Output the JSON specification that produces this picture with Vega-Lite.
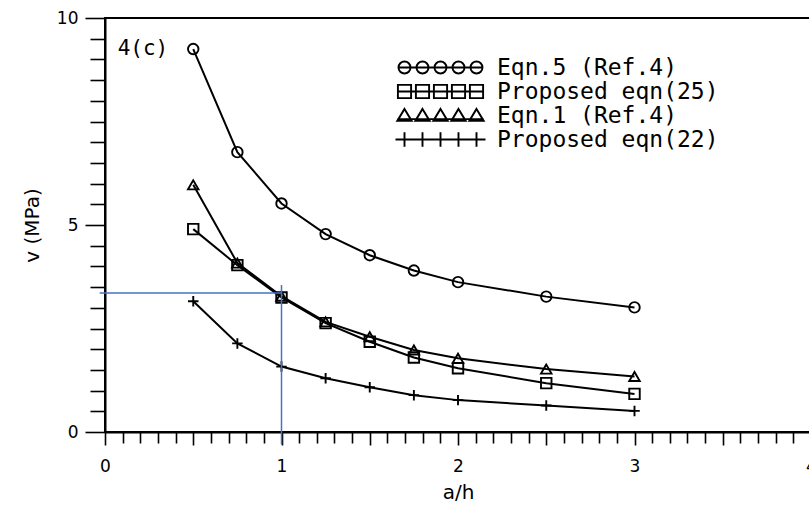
{
  "$schema": "https://vega.github.io/schema/vega-lite/v6.json",
  "width": 706,
  "height": 414,
  "autosize": {"type": "none"},
  "padding": {"left": 105, "top": 18, "right": 0, "bottom": 77},
  "background": "white",
  "config": {
    "view": {"stroke": "black", "strokeWidth": 2},
    "font": "DejaVu Sans",
    "axis": {
      "grid": false,
      "domainColor": "black",
      "domainWidth": 2,
      "tickColor": "black",
      "tickWidth": 1.6,
      "labelColor": "black",
      "titleColor": "black",
      "labelFont": "DejaVu Sans",
      "titleFont": "DejaVu Sans",
      "labelFontSize": 17,
      "titleFontSize": 20,
      "titleFontWeight": "normal"
    }
  },
  "datasets": {
    "curves": [
      {"series": "Eqn.5 (Ref.4)", "ah": 0.5, "v": 9.25},
      {"series": "Eqn.5 (Ref.4)", "ah": 0.75, "v": 6.76},
      {"series": "Eqn.5 (Ref.4)", "ah": 1, "v": 5.52},
      {"series": "Eqn.5 (Ref.4)", "ah": 1.25, "v": 4.78},
      {"series": "Eqn.5 (Ref.4)", "ah": 1.5, "v": 4.27},
      {"series": "Eqn.5 (Ref.4)", "ah": 1.75, "v": 3.9},
      {"series": "Eqn.5 (Ref.4)", "ah": 2, "v": 3.62},
      {"series": "Eqn.5 (Ref.4)", "ah": 2.5, "v": 3.27},
      {"series": "Eqn.5 (Ref.4)", "ah": 3, "v": 3.01},
      {"series": "Proposed eqn(25)", "ah": 0.5, "v": 4.9},
      {"series": "Proposed eqn(25)", "ah": 0.75, "v": 4.03},
      {"series": "Proposed eqn(25)", "ah": 1, "v": 3.25},
      {"series": "Proposed eqn(25)", "ah": 1.25, "v": 2.63},
      {"series": "Proposed eqn(25)", "ah": 1.5, "v": 2.18},
      {"series": "Proposed eqn(25)", "ah": 1.75, "v": 1.8},
      {"series": "Proposed eqn(25)", "ah": 2, "v": 1.54},
      {"series": "Proposed eqn(25)", "ah": 2.5, "v": 1.18},
      {"series": "Proposed eqn(25)", "ah": 3, "v": 0.92},
      {"series": "Eqn.1 (Ref.4)", "ah": 0.5, "v": 5.97},
      {"series": "Eqn.1 (Ref.4)", "ah": 0.75, "v": 4.08},
      {"series": "Eqn.1 (Ref.4)", "ah": 1, "v": 3.28},
      {"series": "Eqn.1 (Ref.4)", "ah": 1.25, "v": 2.66},
      {"series": "Eqn.1 (Ref.4)", "ah": 1.5, "v": 2.3},
      {"series": "Eqn.1 (Ref.4)", "ah": 1.75, "v": 1.98},
      {"series": "Eqn.1 (Ref.4)", "ah": 2, "v": 1.78},
      {"series": "Eqn.1 (Ref.4)", "ah": 2.5, "v": 1.52},
      {"series": "Eqn.1 (Ref.4)", "ah": 3, "v": 1.34},
      {"series": "Proposed eqn(22)", "ah": 0.5, "v": 3.16},
      {"series": "Proposed eqn(22)", "ah": 0.75, "v": 2.14},
      {"series": "Proposed eqn(22)", "ah": 1, "v": 1.58},
      {"series": "Proposed eqn(22)", "ah": 1.25, "v": 1.3},
      {"series": "Proposed eqn(22)", "ah": 1.5, "v": 1.08},
      {"series": "Proposed eqn(22)", "ah": 1.75, "v": 0.89},
      {"series": "Proposed eqn(22)", "ah": 2, "v": 0.77},
      {"series": "Proposed eqn(22)", "ah": 2.5, "v": 0.64},
      {"series": "Proposed eqn(22)", "ah": 3, "v": 0.51}
    ],
    "guides": [
      {"ah": -0.03, "ah2": 1, "v": 3.36, "v2": 3.36},
      {"ah": 1, "ah2": 1, "v": 3.55, "v2": -0.3}
    ]
  },
  "resolve": {"scale": {"shape": "independent"}, "legend": {"shape": "independent"}},
  "layer": [
    {
      "data": {"name": "curves"},
      "mark": {"type": "line", "color": "black", "strokeWidth": 2},
      "encoding": {
        "x": {
          "field": "ah", "type": "quantitative",
          "scale": {"domain": [0, 4], "nice": false, "zero": false},
          "title": "a/h",
          "axis": {
            "values": [0,0.1,0.2,0.3,0.4,0.5,0.6,0.7,0.8,0.9,1,1.1,1.2,1.3,1.4,1.5,1.6,1.7,1.8,1.9,2,2.1,2.2,2.3,2.4,2.5,2.6,2.7,2.8,2.9,3,3.1,3.2,3.3,3.4,3.5,3.6,3.7,3.8,3.9,4],
            "tickCount": 200,
            "labelExpr": "datum.value % 1 === 0 ? '' + datum.value : ''",
            "labelOverlap": false,
            "tickSize": {"condition": {"test": "abs(datum.value * 2 - round(datum.value * 2)) < 0.000001", "value": 13}, "value": 11},
            "labelPadding": 13,
            "titlePadding": 8,
            "labelFlush": false
          }
        },
        "y": {
          "field": "v", "type": "quantitative",
          "scale": {"domain": [0, 10], "nice": false},
          "title": "v (MPa)",
          "axis": {
            "values": [0,0.5,1,1.5,2,2.5,3,3.5,4,4.5,5,5.5,6,6.5,7,7.5,8,8.5,9,9.5,10],
            "tickCount": 200,
            "labelExpr": "datum.value % 5 === 0 ? '' + datum.value : ''",
            "labelOverlap": false,
            "tickSize": {"condition": {"test": "datum.value % 5 === 0", "value": 20}, "value": 15},
            "labelPadding": 7,
            "titlePadding": 14,
            "labelFlush": false
          }
        },
        "detail": {"field": "series"}
      }
    },
    {
      "data": {"name": "curves"},
      "mark": {"type": "point", "filled": false, "color": "black", "strokeWidth": 1.9, "size": 110, "opacity": 1},
      "encoding": {
        "x": {"field": "ah", "type": "quantitative"},
        "y": {"field": "v", "type": "quantitative"},
        "shape": {
          "field": "series", "type": "nominal",
          "scale": {
            "domain": ["Eqn.5 (Ref.4)", "Proposed eqn(25)", "Eqn.1 (Ref.4)", "Proposed eqn(22)"],
            "range": ["circle", "square", "triangle-up", "M-1,0L1,0M0,-1L0,1"]
          },
          "legend": null
        }
      }
    },
    {
      "data": {"name": "curves"},
      "transform": [{"filter": "datum.ah === 0.5"}],
      "mark": {"type": "point", "filled": false, "color": "black", "strokeWidth": 1.9, "opacity": 0},
      "encoding": {
        "x": {"field": "ah", "type": "quantitative"},
        "y": {"field": "v", "type": "quantitative"},
        "shape": {
          "field": "series", "type": "nominal",
          "scale": {
            "domain": ["Eqn.5 (Ref.4)", "Proposed eqn(25)", "Eqn.1 (Ref.4)", "Proposed eqn(22)"],
            "range": [
              "M-7,0L7,0M-5,0A1,1 0 1,1 -7,0A1,1 0 1,1 -5,0M-2,0A1,1 0 1,1 -4,0A1,1 0 1,1 -2,0M1,0A1,1 0 1,1 -1,0A1,1 0 1,1 1,0M4,0A1,1 0 1,1 2,0A1,1 0 1,1 4,0M7,0A1,1 0 1,1 5,0A1,1 0 1,1 7,0",
              "M-7.1,0L7.1,0M-7.1,-1.1h2.2v2.2h-2.2zM-4.1,-1.1h2.2v2.2h-2.2zM-1.1,-1.1h2.2v2.2h-2.2zM1.9,-1.1h2.2v2.2h-2.2zM4.9,-1.1h2.2v2.2h-2.2z",
              "M-7.2,0.6L7.2,0.6M-6,-1.1L-4.8,0.9L-7.2,0.9ZM-3,-1.1L-1.8,0.9L-4.2,0.9ZM0,-1.1L1.2,0.9L-1.2,0.9ZM3,-1.1L4.2,0.9L1.8,0.9ZM6,-1.1L7.2,0.9L4.8,0.9Z",
              "M-7.5,0L7.5,0M-6,-1.2L-6,1.2M-3,-1.2L-3,1.2M0,-1.2L0,1.2M3,-1.2L3,1.2M6,-1.2L6,1.2"
            ]
          },
          "legend": {
            "orient": "none",
            "legendX": 324,
            "legendY": 38,
            "title": null,
            "labelFont": "DejaVu Sans Mono",
            "labelFontSize": 23,
            "labelColor": "black",
            "labelLimit": 400,
            "labelOffset": 45,
            "rowPadding": 0,
            "symbolSize": 144,
            "symbolOpacity": 1,
            "symbolStrokeWidth": 1.9,
            "symbolStrokeColor": "black",
            "symbolFillColor": "transparent"
          }
        }
      }
    },
    {
      "data": {"name": "guides"},
      "mark": {"type": "rule", "color": "#4472C4", "strokeWidth": 1.5, "clip": false},
      "encoding": {
        "x": {"field": "ah", "type": "quantitative"},
        "x2": {"field": "ah2"},
        "y": {"field": "v", "type": "quantitative"},
        "y2": {"field": "v2"}
      }
    },
    {
      "data": {"values": [{"label": "4(c)"}]},
      "mark": {"type": "text", "font": "DejaVu Sans Mono", "fontSize": 21, "align": "center", "baseline": "middle", "color": "black"},
      "encoding": {
        "text": {"field": "label"},
        "x": {"datum": 0.215},
        "y": {"datum": 9.25}
      }
    }
  ]
}
